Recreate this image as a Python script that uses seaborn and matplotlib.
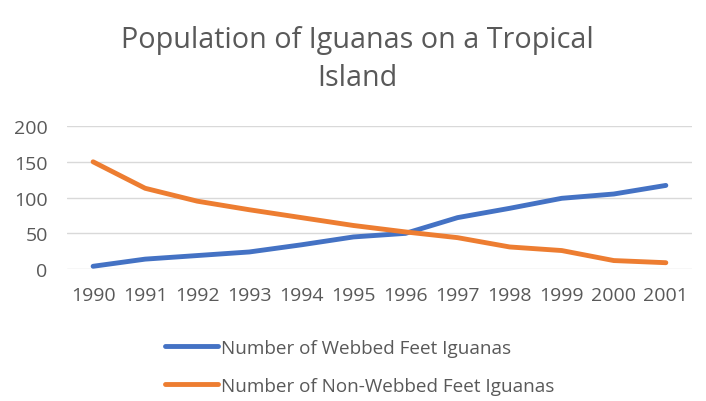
import numpy as np
import matplotlib
matplotlib.use("Agg")
import matplotlib.pyplot as plt
import pandas as pd
import seaborn as sns

# data
years = ['1990', '1991', '1992', '1993', '1994', '1995',
         '1996', '1997', '1998', '1999', '2000', '2001']
webbed = [4, 14, 19, 24, 34, 45, 50, 72, 85, 99, 105, 117]
non_webbed = [150, 113, 95, 83, 72, 61, 52, 44, 31, 26, 12, 9]
series_names = ['Number of Webbed Feet Iguanas', 'Number of Non-Webbed Feet Iguanas']
colors = ['#4472C4', '#ED7D31']

df = pd.DataFrame({
    'Year': years * 2,
    'Count': webbed + non_webbed,
    'Series': [series_names[0]] * len(years) + [series_names[1]] * len(years),
})

sns.set_theme(style="white")
plt.rcParams['font.family'] = ['Open Sans', 'DejaVu Sans']
text_color = '#595959'

fig = plt.figure(figsize=(7.06, 4.02), dpi=100)
ax = fig.add_axes([0.095, 0.328, 0.885, 0.356])

sns.lineplot(data=df, x='Year', y='Count', hue='Series', palette=colors,
             linewidth=3.5, ax=ax, legend=False, sort=False)
for line in ax.lines:
    line.set_clip_on(False)
    line.set_solid_capstyle('round')

ax.set_xlim(-0.5, len(years) - 0.5)
ax.set_ylim(0, 200)
ax.set_yticks([0, 50, 100, 150, 200])
ax.yaxis.grid(True, color='#D9D9D9', linewidth=1)
ax.set_axisbelow(True)
for s in ax.spines.values():
    s.set_visible(False)
ax.tick_params(axis='both', colors=text_color, labelsize=14, length=0)
ax.tick_params(axis='x', pad=12)
ax.tick_params(axis='y', pad=14)
ax.set_xlabel('')
ax.set_ylabel('')

fig.text(0.506, 0.852, 'Population of Iguanas on a Tropical\nIsland',
         ha='center', va='center', multialignment='center',
         fontsize=20.7, color=text_color, linespacing=1.43)

handles = [plt.Line2D([], [], color=c, linewidth=3.5, solid_capstyle='round') for c in colors]
fig.legend(handles, series_names, loc='center left', bbox_to_anchor=(0.21, 0.0846),
           frameon=False, fontsize=13.6, labelcolor=text_color, handlelength=2.8,
           handletextpad=0.15, labelspacing=1.05)

fig.savefig('out.png', dpi=100)
